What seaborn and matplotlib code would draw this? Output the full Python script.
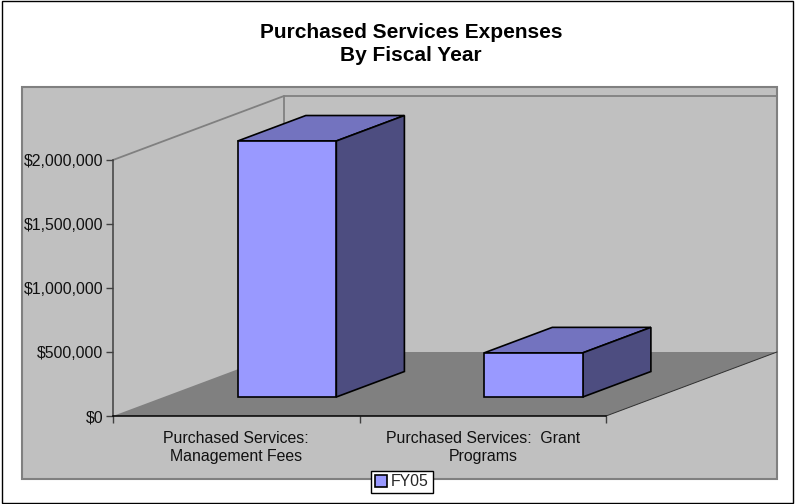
import matplotlib
matplotlib.use('Agg')
import matplotlib.pyplot as plt
import numpy as np
import seaborn as sns
from matplotlib.patches import Patch, Polygon, Rectangle
from matplotlib.transforms import Affine2D, IdentityTransform

categories = ['Purchased Services:\nManagement Fees', 'Purchased Services:  Grant\nPrograms']
fy05 = [2000000, 345000]
y_ticks = [0, 500000, 1000000, 1500000, 2000000]
series_name = 'FY05'
title = 'Purchased Services Expenses\nBy Fiscal Year'

W, H = 795, 504
DEPTH = np.array([171, 64])   # full depth of the fake 3D box, in pixels
BAR_START = 0.297             # where the bars sit inside that depth
BAR_DEPTH = 0.398

sns.set_style('white')
plt.rcParams['font.family'] = ['Liberation Sans', 'DejaVu Sans']
plt.rcParams['font.size'] = 11.4

fig = plt.figure(figsize=(W / 100, H / 100), dpi=100)
ax = fig.add_axes([113 / W, 1 - 416 / H, 493 / W, 256 / H])
ax.patch.set_visible(False)

sns.barplot(x=categories, y=fy05, width=0.4, color='#9999FF', saturation=1, ax=ax)
bars = list(ax.containers[0])
ax.set_xlim(-0.5, 1.5)
ax.set_ylim(0, 2000000)


def pt(x, y, depth=0.0):
    # data position pushed back along the depth axis, in display pixels
    return ax.transData.transform((x, y)) + depth * DEPTH


def face(points, **kw):
    ax.add_patch(Polygon(points, closed=True, transform=IdentityTransform(), clip_on=False, **kw))


# outer frame and grey plot area
ax.add_patch(Rectangle((2, 1), W - 4, H - 2, transform=IdentityTransform(), fc='white', ec='black',
                       lw=1, clip_on=False, zorder=-3))
ax.add_patch(Rectangle((22, H - 479), 755, 392, transform=IdentityTransform(), fc='#C0C0C0', ec='#808080',
                       lw=1.5, clip_on=False, zorder=-2))

# floor and walls
x0, x1 = ax.get_xlim()
face([pt(x0, 0), pt(x0, 0, 1), pt(x1, 0, 1), pt(x1, 0)], fc='#808080', ec='none', zorder=-1)
ax.plot(*np.array([pt(x1, 0), pt(x1, 0, 1)]).T, transform=IdentityTransform(), color='#303030', lw=0.7,
        clip_on=False, zorder=0)
wall = np.array([pt(x0, 2000000), pt(x0, 2000000, 1), pt(x1, 2000000, 1)])
ax.plot(*wall.T, transform=IdentityTransform(), color='#808080', lw=1.3, clip_on=False, zorder=0)
back = np.array([pt(x0, 0, 1), pt(x0, 2000000, 1)])
ax.plot(*back.T, transform=IdentityTransform(), color='#808080', lw=1.3, clip_on=False, zorder=0)

# bars: seaborn front faces moved into the box, side and top faces added
shift = Affine2D().translate(*(BAR_START * DEPTH))
for bar in bars:
    left, right = bar.get_x(), bar.get_x() + bar.get_width()
    h = bar.get_height()
    front, rear = BAR_START, BAR_START + BAR_DEPTH
    bar.set_transform(ax.transData + shift)
    bar.set(edgecolor='black', linewidth=1.2, zorder=4, clip_on=False)
    face([pt(left, h, front), pt(left, h, rear), pt(right, h, rear), pt(right, h, front)],
         fc='#7373BF', ec='black', lw=1.2, zorder=3.5)
    face([pt(right, 0, front), pt(right, 0, rear), pt(right, h, rear), pt(right, h, front)],
         fc='#4D4D80', ec='black', lw=1.2, zorder=3.5)

# axes
sns.despine(ax=ax, top=True, right=True)
ax.spines['left'].set(color='#404040', linewidth=1.1)
ax.spines['bottom'].set(color='black', linewidth=1.1)
ax.set_yticks(y_ticks)
ax.set_yticklabels([f'${v:,.0f}' for v in y_ticks], color='#111111')
ax.set_xticks([0, 1])
ax.set_xticklabels(categories, color='#111111', linespacing=1.25)
ax.set_xticks([-0.5, 0.5, 1.5], minor=True)
ax.tick_params(axis='x', which='major', length=0, pad=11)
ax.tick_params(axis='x', which='minor', length=5, width=1, color='#404040', bottom=True)
ax.tick_params(axis='y', length=5, width=1, color='#404040', left=True, pad=2)

fig.text(411 / W, 1 - 44 / H, title, ha='center', va='center', fontsize=15, fontweight='bold',
         color='black', linespacing=1.25)

handle = Patch(facecolor='#9999FF', edgecolor='black', linewidth=1.2, label=series_name)
fig.legend(handles=[handle], loc='center', bbox_to_anchor=(402 / W, 1 - 482 / H), frameon=True, fancybox=False,
           framealpha=1, facecolor='white', edgecolor='black', handlelength=0.75, handleheight=0.75,
           handletextpad=0.25, borderpad=0.25, borderaxespad=0, fontsize=11.4)

fig.savefig('out.png', dpi=100)
